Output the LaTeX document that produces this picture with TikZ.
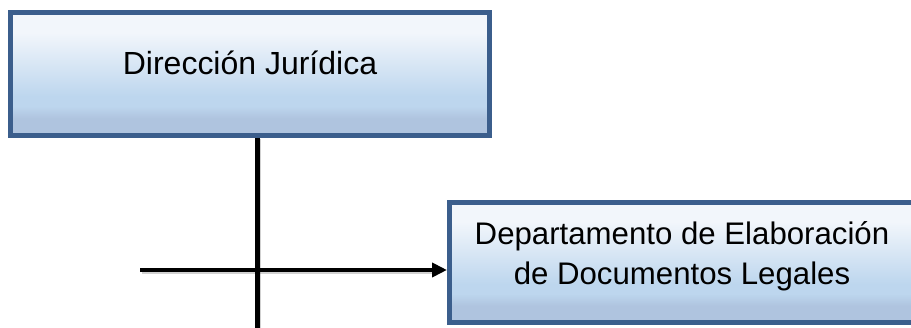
\documentclass[tikz,border=0pt]{standalone}
\usepackage{fontspec}
\setmainfont{Liberation Sans}
\usetikzlibrary{arrows.meta,shadows}
\definecolor{bxA}{HTML}{F2F6FB}
\definecolor{bxB}{HTML}{BDD6EE}
\definecolor{bxC}{HTML}{AFC4DF}
\definecolor{bxBorder}{HTML}{3B5E8C}
\pgfdeclareverticalshading{boxshade}{100bp}{color(0bp)=(bxC); color(25bp)=(bxC); color(32bp)=(bxC); color(37bp)=(bxB); color(41bp)=(bxB); color(67bp)=(bxA); color(75bp)=(bxA); color(100bp)=(bxA)}
\tikzset{
  orgbox/.style={draw=bxBorder, line width=5pt, shading=boxshade, rectangle, inner sep=0pt,
    drop shadow={shadow xshift=1.5pt, shadow yshift=-1.5pt, opacity=0.25, fill=black}},
  boxtext/.style={text=black, inner sep=0pt, anchor=base},
  connector/.style={line width=4.5pt, black},
  connshadow/.style={line width=4.5pt, black, opacity=0.18}
}
\begin{document}
\begin{tikzpicture}[x=1pt,y=-1pt]
\useasboundingbox (0,0) rectangle (911,328);
\begin{scope}
\clip (0,0) rectangle (911,328);
% boxes
\node[orgbox, minimum width=478.5pt, minimum height=122.5pt] (b1) at (249.75,74.25) {};
\node[orgbox, minimum width=468pt, minimum height=120pt] (b2) at (683.5,262.5) {};
% texts
\node[boxtext, font=\fontsize{32}{40.7}\selectfont] (t1) at (250,74.3) {Dirección Jurídica};
\node[boxtext, font=\fontsize{31.2}{40.7}\selectfont] (t2) at (682,244.3) {\begin{tabular}[t]{@{}c@{}}Departamento de Elaboración\\ de Documentos Legales\end{tabular}};
% connectors
\coordinate (vend) at (257.3,332);
\coordinate (hstart) at (140,270);
\draw[connshadow] ([xshift=1.5pt,yshift=-1.5pt]b1.south -| vend) -- ([xshift=1.5pt,yshift=-1.5pt]vend);
\draw[connshadow] ([xshift=1.5pt,yshift=-1.5pt]hstart) -- ([xshift=-14pt,yshift=-1.5pt]hstart -| b2.west);
\draw[connector] (b1.south -| vend) -- (vend);
\draw[connector, -{Triangle[length=15pt,width=14pt]}] (hstart) -- (hstart -| b2.west);
\end{scope}
\end{tikzpicture}
\end{document}
